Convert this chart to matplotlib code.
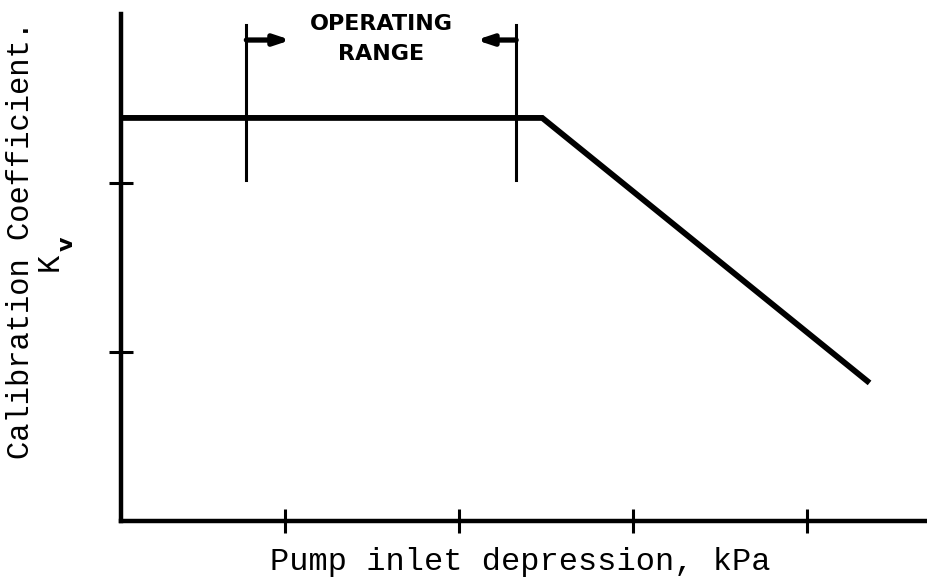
import matplotlib
matplotlib.use("Agg")
import matplotlib.pyplot as plt

# Calibration coefficient curve (arbitrary units)
depression = [0.06, 2.48, 4.36]
coefficient = [2.385, 2.385, 0.817]

x_ticks = [1, 2, 3, 4]
y_ticks = [1, 2]

# operating range bounds and extension-line span
op_range = [0.78, 2.33]
op_line_span = [2.02, 2.935]
arrow_y = 2.846
arrow_len = 0.255

MONO = "Liberation Mono"

fig = plt.figure(figsize=(9.27, 5.85), dpi=100)
ax = fig.add_axes([121 / 927, 1 - 521 / 585, 806 / 927, 507 / 585])

ax.plot(depression, coefficient, color="black", linewidth=4.2,
        solid_joinstyle="miter", solid_capstyle="butt")

for x in op_range:
    ax.plot([x, x], op_line_span, color="black", linewidth=2.2, clip_on=False)

ax.annotate("", xy=(op_range[0] + arrow_len, arrow_y), xytext=(op_range[0], arrow_y),
            arrowprops=dict(arrowstyle="-|>,head_length=0.9,head_width=0.3",
                            color="black", lw=3.8, shrinkA=0, shrinkB=0),
            annotation_clip=False)
ax.annotate("", xy=(op_range[1] - arrow_len * 0.9, arrow_y), xytext=(op_range[1], arrow_y),
            arrowprops=dict(arrowstyle="-|>,head_length=0.9,head_width=0.3",
                            color="black", lw=3.8, shrinkA=0, shrinkB=0),
            annotation_clip=False)

mid = (op_range[0] + op_range[1]) / 2
ax.text(mid, 2.94, "OPERATING", ha="center", va="center", fontsize=16,
        fontweight="bold", family="DejaVu Sans", clip_on=False)
ax.text(mid, 2.765, "RANGE", ha="center", va="center", fontsize=16,
        fontweight="bold", family="DejaVu Sans", clip_on=False)

ax.set_xlim(0.06, 4.69)
ax.set_ylim(0, 3)
ax.set_xticks(x_ticks)
ax.set_yticks(y_ticks)
ax.set_xticklabels([])
ax.set_yticklabels([])
ax.tick_params(direction="inout", length=17, width=2.2, color="black")

for side in ("top", "right"):
    ax.spines[side].set_visible(False)
for side in ("left", "bottom"):
    ax.spines[side].set_linewidth(3.2)
    ax.spines[side].set_color("black")

fig.text(520 / 927, 1 - 570 / 585, "Pump inlet depression, kPa", ha="center",
         va="baseline", fontsize=23, family=MONO)
fig.text(21 / 927, 1 - 240 / 585, "Calibration Coefficient.", ha="center",
         va="center", rotation=90, fontsize=22, family=MONO)
fig.text(50 / 927, 1 - 262 / 585, "K", ha="center", va="center", rotation=90,
         fontsize=22, family=MONO)
fig.text(67 / 927, 1 - 244 / 585, "v", ha="center", va="center", rotation=90,
         fontsize=16, fontweight="bold", family="DejaVu Sans")

fig.savefig("out.png", dpi=100, facecolor="white")
